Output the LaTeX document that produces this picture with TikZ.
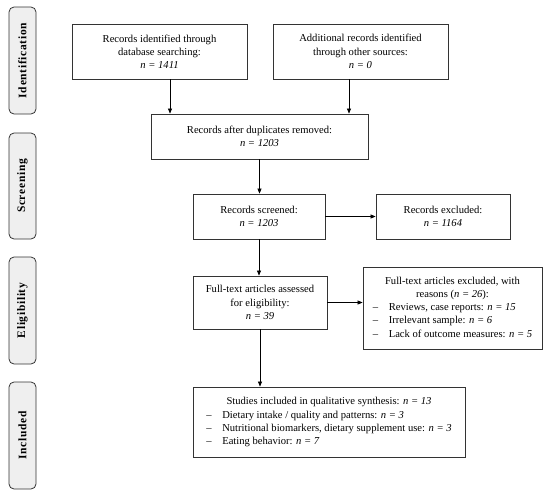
\documentclass[tikz,border=0pt]{standalone}
\usepackage{fontspec}
\setmainfont{Liberation Serif}
\usetikzlibrary{arrows.meta,calc}
\definecolor{edge}{HTML}{333333}
\definecolor{sidefill}{HTML}{EFEFEF}
\tikzset{
  box/.style={draw=edge, line width=0.8pt, fill=white, align=center, inner sep=2pt,
              font=\fontsize{10.6}{13.2}\selectfont},
  side/.style={draw=edge, line width=0.8pt, fill=sidefill, rounded corners=5pt,
               minimum width=27pt, minimum height=107pt, inner sep=0pt,
               font=\fontsize{11.5}{12}\selectfont\bfseries\addfontfeatures{LetterSpace=6}},
  arr/.style={draw=black, line width=0.6pt, -{Triangle[length=5pt,width=4pt]}},
}
\newcommand{\nn}[1]{\textit{n = #1}}
\begin{document}
\begin{tikzpicture}[x=1pt,y=-1pt]
\useasboundingbox (0,0) rectangle (550,496);

% side labels
\node[side] (sid) at (22.5,60.5) {\rotatebox{90}{Identification}};
\node[side, minimum height=106pt] (sscr) at (22.5,186) {\rotatebox{90}{Screening}};
\node[side] (selig) at (22.5,310.5) {\rotatebox{90}{Eligibility}};
\node[side] (sinc) at (22.5,435.5) {\rotatebox{90}{Included}};

% boxes
\node[box, minimum width=175pt, minimum height=55pt] (b1) at (159.5,51.5)
  {Records identified through\\database searching:\\\nn{1411}};
\node[box, minimum width=175pt, minimum height=55pt] (b2) at (360.5,51.5)
  {Additional records identified\\through other sources:\\\nn{0}};
\node[box, minimum width=217pt, minimum height=45pt] (b3) at (259.5,136.5)
  {Records after duplicates removed:\\\nn{1203}};
\node[box, minimum width=132pt, minimum height=45pt] (b4) at (259,216.5)
  {Records screened:\\\nn{1203}};
\node[box, minimum width=134pt, minimum height=45pt] (b5) at (443,216.5)
  {Records excluded:\\\nn{1164}};
\node[box, minimum width=134pt, minimum height=53pt] (b6) at (260,302.5)
  {Full-text articles assessed\\for eligibility:\\\nn{39}};
\node[box, minimum width=179pt, minimum height=82pt] (b7) at (452.5,308)
  {\renewcommand{\arraystretch}{1}%
   \begin{tabular}{@{}p{10pt}@{\hspace{6pt}}l@{}}
   \multicolumn{2}{c}{Full-text articles excluded, with}\\
   \multicolumn{2}{c}{reasons (\nn{26}):}\\
   -- & Reviews, case reports: \nn{15}\\
   -- & Irrelevant sample: \nn{6}\\
   -- & Lack of outcome measures: \nn{5}
   \end{tabular}};
\node[box, minimum width=272pt, minimum height=70pt] (b8) at (329,422)
  {\renewcommand{\arraystretch}{1}%
   \begin{tabular}{@{}p{10pt}@{\hspace{6pt}}l@{}}
   \multicolumn{2}{c}{Studies included in qualitative synthesis: \nn{13}}\\
   -- & Dietary intake / quality and patterns: \nn{3}\\
   -- & Nutritional biomarkers, dietary supplement use: \nn{3}\\
   -- & Eating behavior: \nn{7}
   \end{tabular}};

% connectors
\draw[arr] ([xshift=10.5pt]b1.south) -- ([xshift=10.5pt]b1.south |- b3.north);
\draw[arr] ([xshift=-11.5pt]b2.south) -- ([xshift=-11.5pt]b2.south |- b3.north);
\draw[arr] (b3.south) -- (b3.south |- b4.north);
\draw[arr] (b4.east) -- (b4.east -| b5.west);
\draw[arr] (b4.south) -- (b4.south |- b6.north);
\draw[arr] (b6.east) -- (b6.east -| b7.west);
\draw[arr] (b6.south) -- (b6.south |- b8.north);
\end{tikzpicture}
\end{document}
